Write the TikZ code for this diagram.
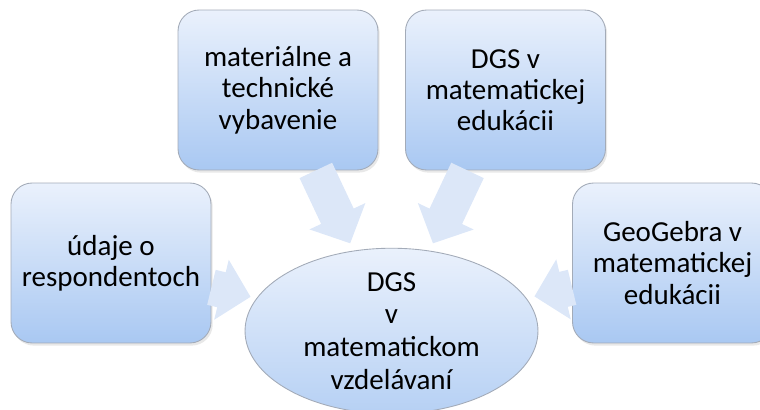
\documentclass[tikz,border=0pt]{standalone}
\usepackage{fontspec}
\setmainfont{Carlito}
\usetikzlibrary{
    arrows.meta,
    shadows,
    shapes.geometric
}
\definecolor{boxtop}{HTML}{EAF1FC}
\definecolor{boxbot}{HTML}{A9C8F2}
\definecolor{boxline}{HTML}{A3ABB8}
\definecolor{flow}{HTML}{DCE7F8}

\begin{document}
\begin{tikzpicture}[x=0.02cm, y=-0.02cm,
    topic/.style={rectangle, rounded corners=12pt, draw=boxline, line width=0.5pt,
        top color=boxtop, bottom color=boxbot,
        drop shadow={opacity=0.18, shadow xshift=1pt, shadow yshift=-1.5pt},
        minimum width=4cm, minimum height=3.2cm, align=center,
        font=\fontsize{16.5}{17.8}\selectfont},
    core/.style={ellipse, draw=boxline, line width=0.5pt,
        top color=boxtop, bottom color=boxbot!85!white,
        minimum width=5.86cm, minimum height=3.16cm, inner sep=0pt, align=center,
        font=\fontsize{16.5}{18.6}\selectfont},
    feed/.style={draw=flow, line width=0.72cm,
        -{Triangle[length=0.6cm, width=1.2cm]}, shorten >=0.16cm}
]
    \useasboundingbox (0,0) rectangle (760,409);

    \node[topic] (mat) at (278,90) {materiálne a\\technické\\vybavenie};
    \node[topic] (edu) at (505.5,90) {DGS v\\matematickej\\edukácii};
    \node[topic] (resp) at (111,263) {údaje o\\respondentoch};
    \node[topic] (geo) at (672.5,263) {GeoGebra v\\matematickej\\edukácii};

    \node[core] (dgs) at (391.5,331) {DGS\\v\\matematickom\\vzdelávaní};

    \draw[feed] (mat) -- (dgs);
    \draw[feed] (edu) -- (dgs);
    \draw[feed, shorten >=0.12cm] (resp) -- (dgs);
    \draw[feed] (geo) -- (dgs);
\end{tikzpicture}
\end{document}
